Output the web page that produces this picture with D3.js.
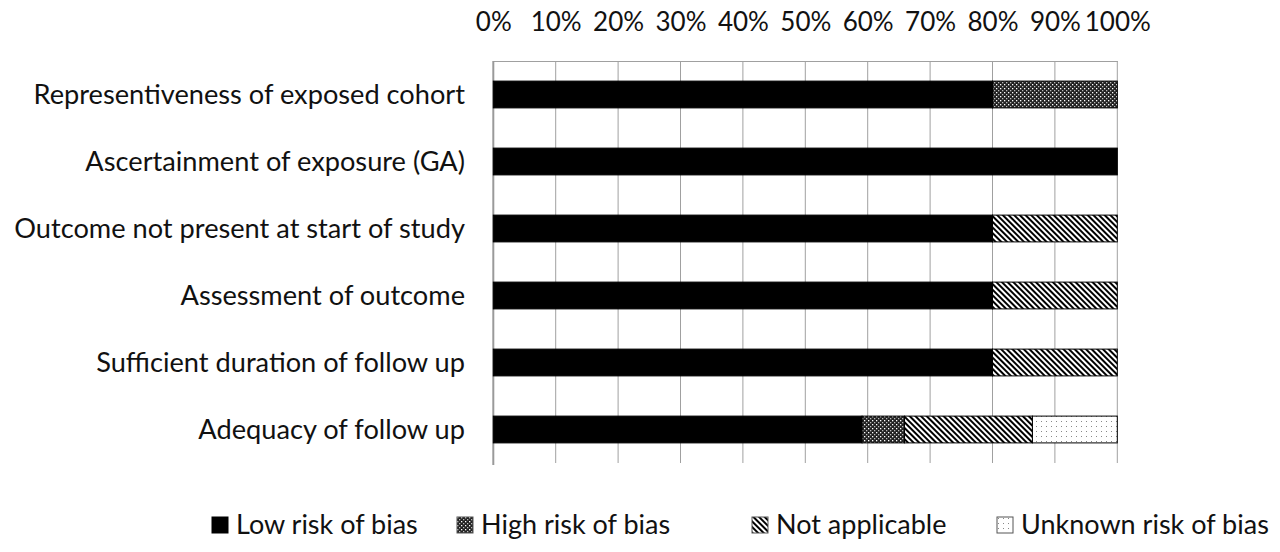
<!DOCTYPE html>
<html><head><meta charset="utf-8">
<script src="https://cdn.jsdelivr.net/npm/d3@7"></script>
<style>body{margin:0;background:#fff}text{font-family:Lato,"Open Sans",sans-serif;fill:#111}</style>
</head><body><svg id="c" width="1280" height="552"></svg>
<script>
const categories = ["Representiveness of exposed cohort","Ascertainment of exposure (GA)","Outcome not present at start of study","Assessment of outcome","Sufficient duration of follow up","Adequacy of follow up"];
const seriesNames = ["Low risk of bias","High risk of bias","Not applicable","Unknown risk of bias"];
const lowRisk = [80,100,80,80,80,59.1];
const highRisk = [20,0,0,0,0,6.8];
const notApplicable = [0,0,20,20,20,20.5];
const unknownRisk = [0,0,0,0,0,13.6];
const tickValues = [0,10,20,30,40,50,60,70,80,90,100];
const tickLabels = ["0%","10%","20%","30%","40%","50%","60%","70%","80%","90%","100%"];

const svg = d3.select("#c");
const defs = svg.append("defs");
// high risk pattern
let p = defs.append("pattern").attr("id","p1").attr("patternUnits","userSpaceOnUse").attr("width",4).attr("height",4);
p.append("rect").attr("width",4).attr("height",4).attr("fill","#222");
p.append("rect").attr("x",0).attr("y",0).attr("width",1.3).attr("height",1.3).attr("fill","#fff");
p.append("rect").attr("x",2).attr("y",2).attr("width",1.3).attr("height",1.3).attr("fill","#bbb");
// not applicable stripes
p = defs.append("pattern").attr("id","p2").attr("patternUnits","userSpaceOnUse").attr("width",4).attr("height",4).attr("patternTransform","rotate(-45)");
p.append("rect").attr("width",4).attr("height",4).attr("fill","#fff");
p.append("rect").attr("width",2).attr("height",4).attr("fill","#000");
// unknown dots
p = defs.append("pattern").attr("id","p3").attr("patternUnits","userSpaceOnUse").attr("width",5).attr("height",5);
p.append("rect").attr("width",5).attr("height",5).attr("fill","#fff");
p.append("rect").attr("x",1).attr("y",1).attr("width",1).attr("height",1).attr("fill","#888");
const fills = ["#000","url(#p1)","url(#p2)","url(#p3)"];

const x = d3.scaleLinear().domain([0,100]).range([493.3,1117.3]);
const y = d3.scaleBand().domain(categories).range([61,463]).paddingInner(0.6).paddingOuter(0.3);

// gridlines
svg.append("g").selectAll("line").data(tickValues.slice(1)).join("line")
  .attr("x1",d=>x(d)).attr("x2",d=>x(d)).attr("y1",61).attr("y2",463)
  .attr("stroke","#a0a0a0").attr("stroke-width",1);
// top axis
const ax = svg.append("g").attr("transform","translate(0,61)")
  .call(d3.axisTop(x).tickValues(tickValues).tickFormat((d,i)=>tickLabels[i]).tickSize(0).tickPadding(30));
ax.select(".domain").attr("stroke","#a0a0a0");
ax.selectAll("text").attr("font-size",26).attr("font-family","Lato").attr("fill","#111");
// left axis line
svg.append("line").attr("x1",493.3).attr("x2",493.3).attr("y1",61).attr("y2",465).attr("stroke","#9a9a9a").attr("stroke-width",2);

const data = categories.map((c,i)=>({c, vals:[lowRisk[i],highRisk[i],notApplicable[i],unknownRisk[i]]}));
const stack = d3.stack().keys([0,1,2,3]).value((d,k)=>d.vals[k])(data);
svg.append("g").selectAll("g").data(stack).join("g").attr("fill",(d,i)=>fills[i])
  .selectAll("rect").data(d=>d.filter(s=>s[1]-s[0]>0)).join("rect")
  .attr("x",d=>x(d[0])).attr("width",d=>x(d[1])-x(d[0]))
  .attr("y",d=>y(d.data.c)).attr("height",y.bandwidth())
  .attr("stroke","#000").attr("stroke-width",1);

// category labels
svg.append("g").selectAll("text").data(categories).join("text")
  .attr("x",465).attr("y",d=>y(d)+y.bandwidth()/2).attr("dy","0.35em")
  .attr("text-anchor","end").attr("font-size",27.2).text(d=>d);

// legend
const legX = [212,457,752,997];
const lg = svg.append("g").selectAll("g").data(seriesNames).join("g")
  .attr("transform",(d,i)=>`translate(${legX[i]},517)`);
lg.append("rect").attr("width",16).attr("height",16).attr("fill",(d,i)=>fills[i]).attr("stroke",(d,i)=>i===0?"#000":"#555").attr("stroke-width",1);
lg.append("text").attr("x",24).attr("y",8).attr("dy","0.35em").attr("font-size",27).text(d=>d);
</script></body></html>
